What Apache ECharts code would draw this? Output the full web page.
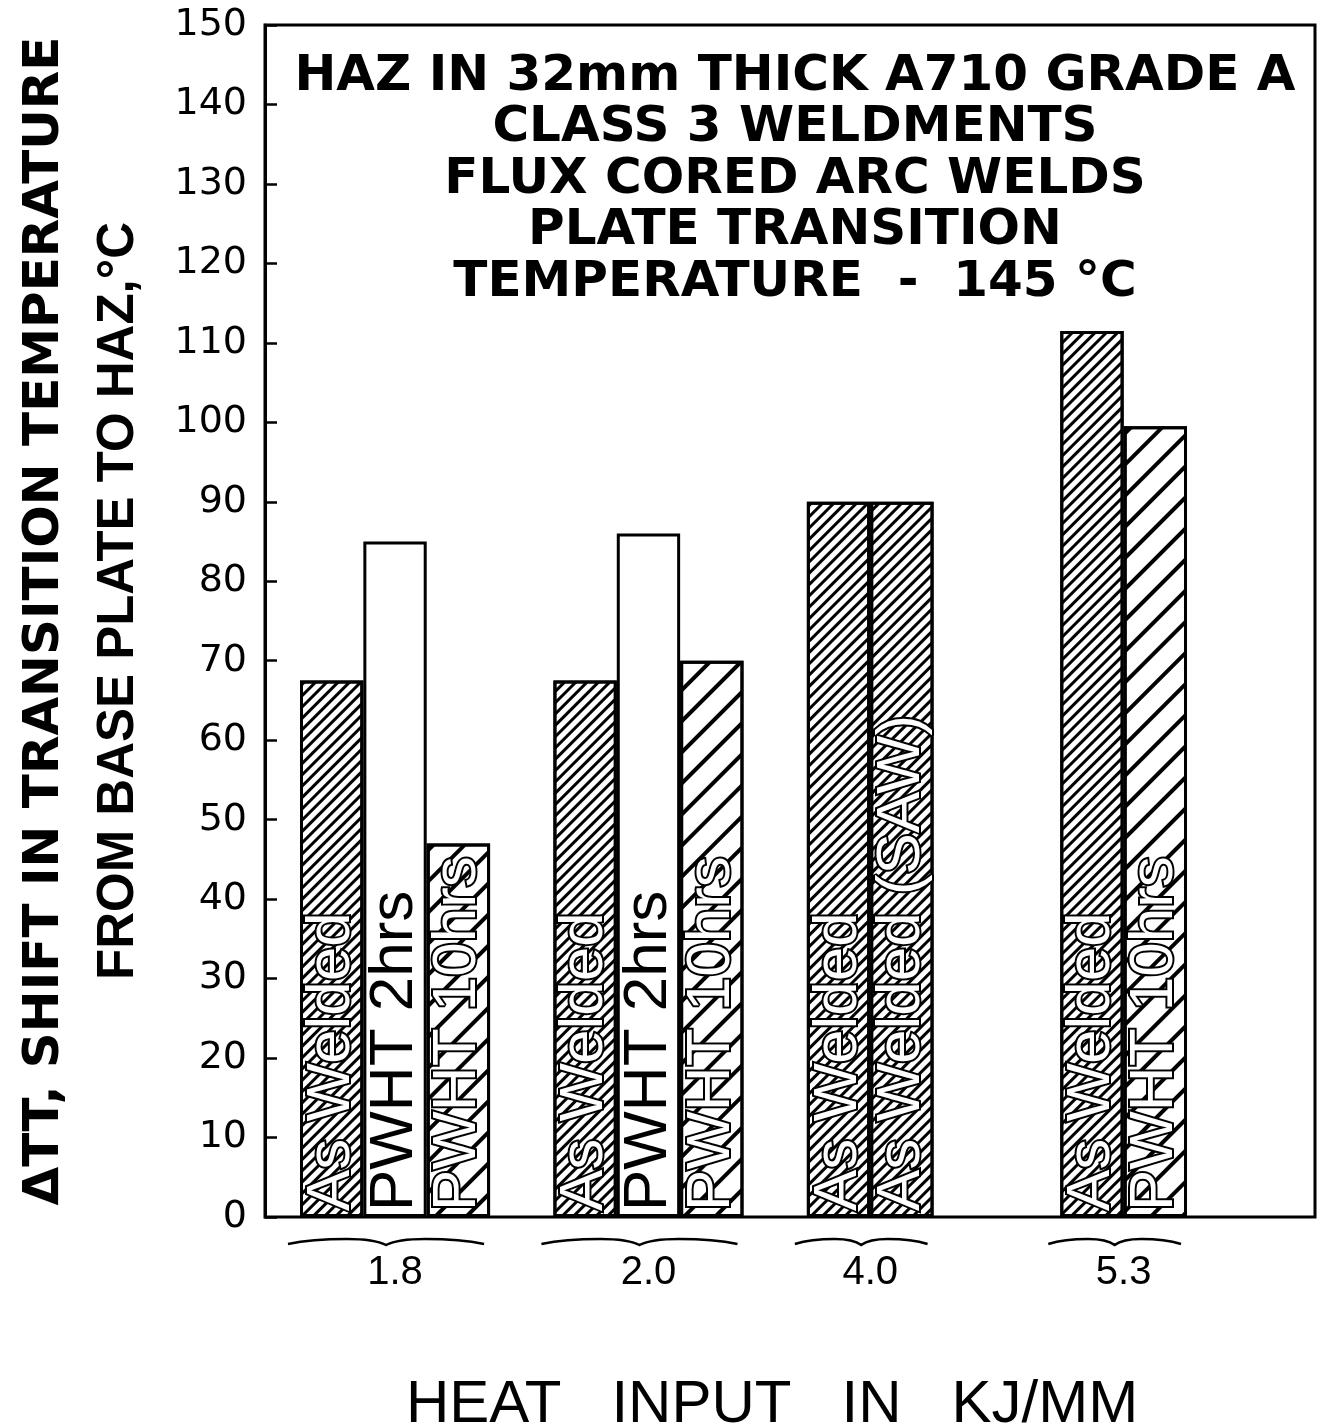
<!DOCTYPE html>
<html>
<head>
<meta charset="utf-8">
<title>HAZ transition temperature shift</title>
<script src="https://cdn.jsdelivr.net/npm/echarts@6/dist/echarts.min.js"></script>
<style>
  html, body { margin: 0; padding: 0; background: #fff; }
  #chart { width: 1330px; height: 1425px; }
</style>
</head>
<body>
<div id="chart"></div>
<script>
// heat input groups (kJ/mm) and the bars inside each group
const groupLabels = ['1.8', '2.0', '4.0', '5.3']
const treatments = [
  ['As Welded', 'PWHT 2hrs', 'PWHT 10hrs'],
  ['As Welded', 'PWHT 2hrs', 'PWHT 10hrs'],
  ['As Welded', 'As Welded (SAW)'],
  ['As Welded', 'PWHT 10hrs'],
]
// ΔTT, °C
const shiftValues = [
  [67.5, 85, 47],
  [67.5, 86, 70],
  [90, 90],
  [111.5, 99.5],
]
const yMin = 0
const yMax = 150
const yStep = 10
const titleLines = [
  'HAZ IN 32mm THICK A710 GRADE A',
  'CLASS 3 WELDMENTS',
  'FLUX CORED ARC WELDS',
  'PLATE TRANSITION',
  'TEMPERATURE  -  145 °C',
]

// layout: empty slots left between groups
const gapAfter = [1, 1, 2]

const denseHatch = {
  symbol: 'rect', symbolSize: 1, color: '#000',
  dashArrayX: [1, 0], dashArrayY: [2.5, 5], rotation: -Math.PI / 4,
}
const wideHatch = {
  symbol: 'rect', symbolSize: 1, color: '#000',
  dashArrayX: [1, 0], dashArrayY: [4, 18], rotation: -Math.PI / 4,
}
const hatchFor = {
  'As Welded': denseHatch,
  'As Welded (SAW)': denseHatch,
  'PWHT 2hrs': null,
  'PWHT 10hrs': wideHatch,
}

const slotNames = []
const barData = []
const groupSpans = []
let slot = 0
groupLabels.forEach((g, gi) => {
  const start = slot
  treatments[gi].forEach((t, bi) => {
    const decal = hatchFor[t]
    slotNames.push(g + '-' + bi)
    barData.push({
      value: shiftValues[gi][bi],
      treatment: t,
      itemStyle: decal ? { decal } : {},
      label: decal
        ? { color: '#fff', textBorderColor: '#000', textBorderWidth: 4 }
        : { color: '#000', textBorderWidth: 0 },
    })
    slot++
  })
  groupSpans.push([start, slot])
  for (let k = 0; k < (gapAfter[gi] || 0); k++) {
    slotNames.push('gap-' + gi + '-' + k)
    barData.push('-')
    slot++
  }
})
const slotCount = slot
const groupCenters = groupSpans.map(s => (s[0] + s[1]) / 2)

const chart = echarts.init(document.getElementById('chart'))

chart.setOption({
  backgroundColor: '#fff',
  animation: false,
  title: {
    text: titleLines.join('\n'),
    left: 790,
    top: 46,
    textAlign: 'center',
    textStyle: {
      fontFamily: 'DejaVu Sans',
      fontWeight: 'bold',
      fontSize: 50,
      lineHeight: 51.5,
      color: '#000',
    },
  },
  grid: [
    {
      left: 265, right: 15, top: 25, bottom: 208,
      outerBoundsMode: 'none',
      show: true, borderColor: '#000', borderWidth: 3,
    },
    { left: 300, width: 887, top: 25, bottom: 208, outerBoundsMode: 'none' },
  ],
  xAxis: [
    {
      gridIndex: 0,
      type: 'value',
      min: 0,
      max: 1,
      axisLine: { show: false },
      axisTick: { show: false },
      axisLabel: { show: false },
      splitLine: { show: false },
      name: 'HEAT   INPUT   IN   KJ/MM',
      nameLocation: 'middle',
      nameGap: 158,
      nameTextStyle: {
        fontFamily: 'Liberation Sans',
        fontSize: 60,
        color: '#000',
        padding: [0, 36, 0, 0],
      },
    },
    {
      gridIndex: 1,
      type: 'category',
      position: 'bottom',
      data: slotNames,
      axisLine: { show: false },
      axisTick: { show: false },
      axisLabel: { show: false },
    },
    {
      gridIndex: 1,
      type: 'value',
      position: 'bottom',
      min: 0,
      max: slotCount,
      axisLine: { show: false },
      axisTick: { show: false },
      splitLine: { show: false },
      axisLabel: {
        customValues: groupCenters,
        formatter: v => groupLabels[groupCenters.indexOf(v)] || '',
        margin: 36,
        fontFamily: 'Liberation Sans Narrow, Liberation Sans',
        fontSize: 40,
        color: '#000',
      },
    },
  ],
  yAxis: [
    {
      gridIndex: 0,
      type: 'value',
      min: yMin,
      max: yMax,
      interval: yStep,
      axisLine: { show: true, lineStyle: { color: '#000', width: 3 } },
      axisTick: { show: true, inside: true, length: 12, lineStyle: { color: '#000', width: 2.5 } },
      splitLine: { show: false },
      axisLabel: {
        fontFamily: 'DejaVu Sans',
        fontSize: 38,
        color: '#000',
        margin: 18,
      },
      name: '{a|ΔTT, SHIFT IN TRANSITION TEMPERATURE}\n{b|FROM BASE PLATE TO HAZ,°C}',
      nameLocation: 'middle',
      nameRotate: 90,
      nameGap: 110,
      nameTextStyle: {
        color: '#000',
        rich: {
          a: {
            fontFamily: 'DejaVu Sans',
            fontWeight: 'bold',
            fontSize: 50,
            lineHeight: 73,
            color: '#000',
          },
          b: {
            fontFamily: 'Liberation Sans',
            fontWeight: 'bold',
            fontSize: 51,
            lineHeight: 73,
            color: '#000',
            padding: [0, 0, 0, 40],
          },
        },
      },
    },
    { gridIndex: 1, type: 'value', min: yMin, max: yMax, show: false },
  ],
  series: [
    {
      type: 'bar',
      xAxisIndex: 1,
      yAxisIndex: 1,
      barCategoryGap: '0%',
      data: barData,
      itemStyle: { color: '#fff', borderColor: '#000', borderWidth: 3 },
      label: {
        show: true,
        position: 'insideBottom',
        rotate: 90,
        align: 'left',
        verticalAlign: 'middle',
        distance: 6,
        fontFamily: 'Liberation Sans',
        fontSize: 62,
        formatter: p => p.data.treatment,
      },
    },
    {
      // curly braces under each heat-input group
      type: 'custom',
      xAxisIndex: 2,
      yAxisIndex: 1,
      clip: false,
      data: groupSpans,
      renderItem: (params, api) => {
        const a = api.coord([api.value(0), 0])
        const b = api.coord([api.value(1), 0])
        const x0 = a[0] - 12
        const x1 = b[0] - 6
        const y = a[1] + 24
        const w = x1 - x0
        const c = (x0 + x1) / 2
        const d = [
          'M', x0, y + 3,
          'Q', x0 + w * 0.12, y - 2, x0 + w * 0.3, y - 2,
          'Q', c - w * 0.06, y - 2, c, y + 4,
          'Q', c + w * 0.06, y - 2, x1 - w * 0.3, y - 2,
          'Q', x1 - w * 0.12, y - 2, x1, y + 3,
        ].join(' ')
        return {
          type: 'path',
          shape: { pathData: d },
          style: { fill: 'none', stroke: '#000', lineWidth: 2.5 },
        }
      },
    },
  ],
})
</script>
</body>
</html>
